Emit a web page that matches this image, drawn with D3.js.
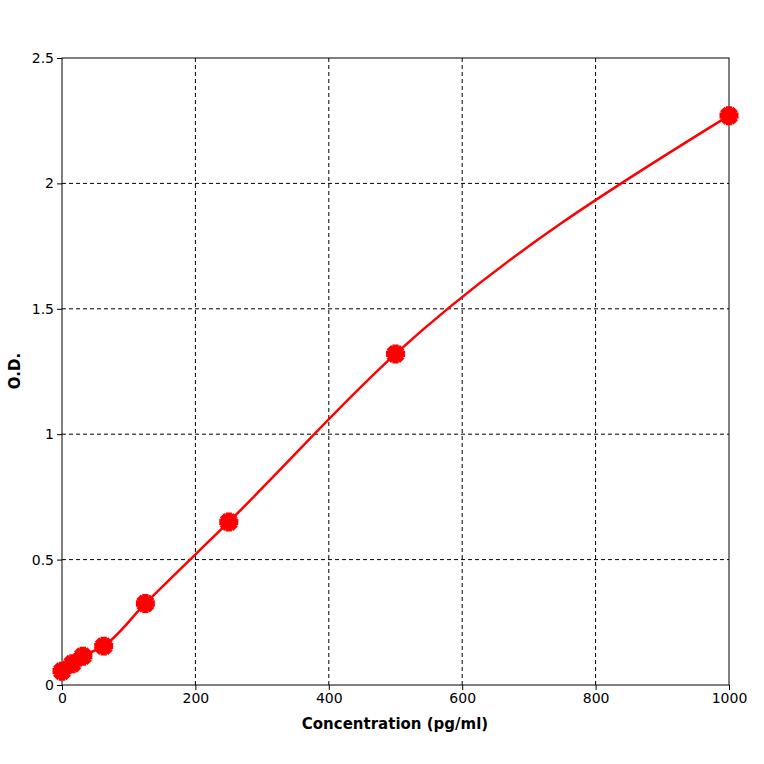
<!DOCTYPE html>
<html><head><meta charset="utf-8">
<script src="https://cdn.jsdelivr.net/npm/d3@7"></script>
<style>body{margin:0;background:#fff}</style></head>
<body><svg id="c" width="764" height="764"></svg>
<script>
const concentrations=[0,15.6,31.25,62.5,125,250,500,1000];
const odValues=[0.055,0.085,0.115,0.155,0.325,0.65,1.32,2.27];
const xTicks=[0,200,400,600,800,1000];
const yTicks=[0,0.5,1,1.5,2,2.5];
const svg=d3.select("#c");
const x=d3.scaleLinear().domain([0,1000]).range([62,729]);
const y=d3.scaleLinear().domain([0,2.5]).range([685,58]);
const g=svg.append("g");
g.selectAll(".vg").data(xTicks.slice(1,-1)).join("line").attr("x1",d=>x(d)).attr("x2",d=>x(d)).attr("y1",58).attr("y2",685).attr("stroke","#000").attr("stroke-dasharray","4,3");
g.selectAll(".hg").data(yTicks.slice(1,-1)).join("line").attr("y1",d=>y(d)).attr("y2",d=>y(d)).attr("x1",62).attr("x2",729).attr("stroke","#000").attr("stroke-dasharray","4,3");
g.append("rect").attr("x",62).attr("y",58).attr("width",667).attr("height",627).attr("fill","none").attr("stroke","#000");
svg.append("g").attr("transform","translate(0,685)").call(d3.axisBottom(x).tickValues(xTicks).tickSize(5).tickFormat(d3.format("d")));
svg.append("g").attr("transform","translate(62,0)").call(d3.axisLeft(y).tickValues(yTicks).tickSize(5).tickFormat(d=>String(d)));
svg.selectAll(".tick text").attr("font-family","DejaVu Sans, Arial").attr("font-size",14).attr("fill","#000");
svg.selectAll(".domain").remove();
svg.append("text").attr("x",395).attr("y",729).attr("text-anchor","middle").attr("font-family","DejaVu Sans, Arial").attr("font-weight","bold").attr("font-size",15).text("Concentration (pg/ml)");
svg.append("text").attr("transform","translate(20,371) rotate(-90)").attr("text-anchor","middle").attr("font-family","DejaVu Sans, Arial").attr("font-weight","bold").attr("font-size",15).text("O.D.");
const pts=concentrations.map((c,i)=>[c,odValues[i]]);
svg.append("path").datum(pts).attr("d",d3.line().x(d=>x(d[0])).y(d=>y(d[1])).curve(d3.curveMonotoneX)).attr("fill","none").attr("stroke","#f00").attr("stroke-width",2.5);
const m=svg.selectAll(".m").data(pts).join("g").attr("transform",d=>`translate(${x(d[0])},${y(d[1])})`);
m.append("circle").attr("r",7).attr("fill","#f00");
m.append("path").attr("d",d3.symbol(d3.symbolCross,200)).attr("fill","#f00");
m.append("path").attr("d",d3.symbol(d3.symbolCross,200)).attr("transform","rotate(45)").attr("fill","#f00");
</script></body></html>
